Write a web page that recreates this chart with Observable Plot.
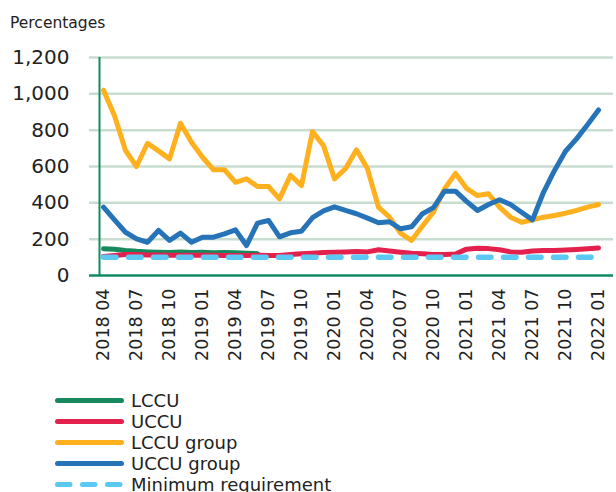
<!DOCTYPE html>
<html>
<head>
<meta charset="utf-8">
<script src="https://cdn.jsdelivr.net/npm/d3@7"></script>
<script src="https://cdn.jsdelivr.net/npm/@observablehq/plot@0.6"></script>
<style>
  html, body { margin: 0; padding: 0; background: #fff; }
  body { width: 616px; height: 492px; overflow: hidden; font-family: "DejaVu Sans", Verdana, sans-serif; color: #222; }
  #ylabel { box-sizing: border-box; height: 40px; padding: 14px 0 0 10px; font-size: 15.5px; line-height: 18px; }
  #chart svg { display: block; }
  #legend { padding-top: 5px; }
  .row { position: relative; height: 21px; }
  .row svg { position: absolute; left: 0; top: 0; }
  .row span { position: absolute; left: 131px; top: 0; font-size: 18px; line-height: 21px; white-space: nowrap; }
</style>
</head>
<body>
<div id="ylabel">Percentages</div>
<div id="chart"></div>
<div id="legend"></div>
<script>
const months = ["2018 04","2018 05","2018 06","2018 07","2018 08","2018 09","2018 10","2018 11","2018 12",
  "2019 01","2019 02","2019 03","2019 04","2019 05","2019 06","2019 07","2019 08","2019 09","2019 10","2019 11","2019 12",
  "2020 01","2020 02","2020 03","2020 04","2020 05","2020 06","2020 07","2020 08","2020 09","2020 10","2020 11","2020 12",
  "2021 01","2021 02","2021 03","2021 04","2021 05","2021 06","2021 07","2021 08","2021 09","2021 10","2021 11","2021 12",
  "2022 01"];
const xTicks = ["2018 04","2018 07","2018 10","2019 01","2019 04","2019 07","2019 10","2020 01","2020 04","2020 07","2020 10","2021 01","2021 04","2021 07","2021 10","2022 01"];
const yTicks = [0, 200, 400, 600, 800, 1000, 1200];

const seriesNames = ["LCCU", "UCCU", "LCCU group", "UCCU group", "Minimum requirement"];
const seriesColors = ["#168a5c", "#e4204d", "#ffb01e", "#2673b8", "#5cc9f5"];

const lccu = [147, 145, 138, 133, 130, 128, 127, 130, 127, 128, 125, 127, 125, 123, 120];
const uccu = [105, 110, 115, 115, 113, 113, 112, 112, 112, 112, 112, 110, 110, 110, 112, 110, 110, 115, 120, 123, 126,
  128, 130, 132, 130, 142, 135, 128, 122, 120, 115, 115, 118, 145, 150, 148, 142, 130, 128, 135, 138, 138, 140, 143, 147, 152];
const lccuGroup = [1020, 880, 688, 600, 728, 686, 642, 838, 734, 651, 582, 582, 513, 532, 490, 490, 422, 552, 495, 792, 715,
  532, 588, 692, 587, 376, 321, 233, 193, 272, 350, 477, 562, 480, 440, 450, 376, 321, 293, 306, 321, 330, 343, 358, 376, 391];
const uccuGroup = [376, 306, 238, 202, 183, 248, 193, 233, 183, 211, 211, 229, 251, 165, 288, 303, 213, 235, 244, 318, 356,
  378, 358, 340, 316, 290, 296, 257, 268, 340, 374, 464, 464, 408, 358, 391, 417, 391, 348, 306, 458, 578, 684, 752, 830, 911];
const minRequirement = [100, 100, 100, 100, 100, 100, 100, 100, 100, 100, 100, 100, 100, 100, 100, 100, 100, 100, 100, 100, 100,
  100, 100, 100, 100, 100, 100, 100, 100, 100, 100, 100, 100, 100, 100, 100, 100, 100, 100, 100, 100, 100, 100, 100, 100, 100];

const seriesValues = [lccu, uccu, lccuGroup, uccuGroup, minRequirement];
const gridColor = "#c8ddd0";
const axisGreen = "#108a5e";

const lineMarks = seriesValues.map((vals, s) => Plot.line(vals, {
  x: (d, i) => months[i],
  y: d => d,
  stroke: seriesColors[s],
  strokeWidth: s === 4 ? 5.5 : 5,
  strokeLinejoin: "round",
  strokeLinecap: "round",
  strokeDasharray: s === 4 ? "12.5 12.5" : null
}));

const chart = Plot.plot({
  width: 616,
  height: 345,
  marginTop: 17,
  marginBottom: 110,
  marginLeft: 89,
  marginRight: 3,
  style: { fontFamily: "'DejaVu Sans', Verdana, sans-serif", color: "#222", background: "transparent", overflow: "visible" },
  x: { type: "point", domain: months, padding: 0, insetLeft: 4, insetRight: 6 },
  y: { domain: [0, 1200] },
  marks: [
    Plot.ruleY(yTicks.filter(d => d > 0), { stroke: gridColor, strokeWidth: 2.5 }),
    Plot.ruleY([0], { stroke: axisGreen, strokeWidth: 2.5 }),
    Plot.ruleX([months[0]], { x: d => d, y1: 0, y2: 1200, dx: -4, stroke: axisGreen, strokeWidth: 2 }),
    ...lineMarks,
    Plot.axisX({ ticks: xTicks, tickRotate: -90, tickSize: 0, tickPadding: 13, fontSize: 17.5, label: null, fill: "#222" }),
    Plot.axisY({ ticks: yTicks, tickFormat: d3.format(","), tickSize: 0, tickPadding: 20, fontSize: 20, label: null, fill: "#222" })
  ]
});
document.getElementById("chart").appendChild(chart);

const legend = d3.select("#legend");
seriesNames.forEach((name, s) => {
  const row = legend.append("div").attr("class", "row");
  const svg = row.append("svg").attr("width", 130).attr("height", 21);
  svg.append("line")
    .attr("x1", 57.5).attr("x2", 121.5).attr("y1", 10.5).attr("y2", 10.5)
    .attr("stroke", seriesColors[s]).attr("stroke-width", 5)
    .attr("stroke-linecap", "round")
    .attr("stroke-dasharray", s === 4 ? "12.5 12.5" : null);
  row.append("span").text(name);
});
</script>
</body>
</html>
